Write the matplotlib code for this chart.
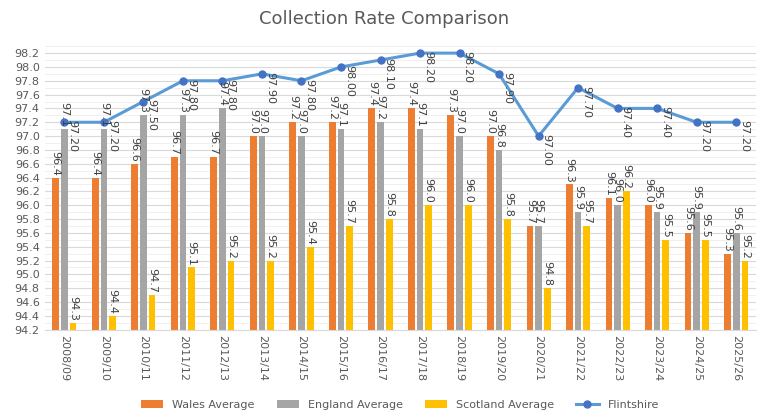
import matplotlib
matplotlib.use("Agg")
import matplotlib.pyplot as plt
import numpy as np
from matplotlib.ticker import MultipleLocator

years = ["2008/09","2009/10","2010/11","2011/12","2012/13","2013/14","2014/15","2015/16","2016/17",
         "2017/18","2018/19","2019/20","2020/21","2021/22","2022/23","2023/24","2024/25","2025/26"]
wales = [96.4,96.4,96.6,96.7,96.7,97.0,97.2,97.2,97.4,97.4,97.3,97.0,95.7,96.3,96.1,96.0,95.6,95.3]
england = [97.1,97.1,97.3,97.3,97.4,97.0,97.0,97.1,97.2,97.1,97.0,96.8,95.7,95.9,96.0,95.9,95.9,95.6]
scotland = [94.3,94.4,94.7,95.1,95.2,95.2,95.4,95.7,95.8,96.0,96.0,95.8,94.8,95.7,96.2,95.5,95.5,95.2]
flint = [97.2,97.2,97.5,97.8,97.8,97.9,97.8,98.0,98.1,98.2,98.2,97.9,97.0,97.7,97.4,97.4,97.2,97.2]

fig = plt.figure(figsize=(7.69,4.20), dpi=100)
ax = fig.add_axes([0.058, 0.215, 0.925, 0.675])
x = np.arange(len(years))
w = 0.17
base = 94.2
cols = ["#ED7D31", "#A5A5A5", "#FFC000"]
names = ["Wales Average", "England Average", "Scotland Average"]
for i, (vals, c, n) in enumerate(zip([wales, england, scotland], cols, names)):
    xs = x + (i-1)*0.22
    v = np.array(vals)
    ax.bar(xs, v-base, w, bottom=base, color=c, label=n, zorder=2)
    for xi, vi in zip(xs, v):
        ax.text(xi, vi+0.03, f"{vi:.1f}", rotation=-90, ha="center", va="bottom",
                fontsize=8, color="#404040", zorder=4)
ax.plot(x, flint, color="#5B9BD5", lw=2.2, marker="o", ms=5,
        mfc="#4472C4", mec="#4472C4", label="Flintshire", zorder=3)
for xi, vi in zip(x, flint):
    ax.text(xi+0.2, vi+0.03, f"{vi:.2f}", rotation=-90, ha="center", va="top",
            fontsize=8, color="#404040", zorder=4)

ax.set_xlim(-0.5, len(years)-0.5)
ax.set_ylim(94.2, 98.3)
ax.yaxis.set_minor_locator(MultipleLocator(0.1))
ticks = np.round(np.arange(94.2, 98.21, 0.2), 1)
ax.set_yticks(ticks)
ax.set_yticklabels([f"{t:.1f}" for t in ticks])
ax.grid(axis="y", which="major", color="#D9D9D9", lw=0.8, zorder=0)
ax.grid(axis="y", which="minor", color="#EEEEEE", lw=0.6, zorder=0)
ax.set_xticks(x)
ax.set_xticklabels(years, rotation=-90, fontsize=8, color="#595959")
ax.tick_params(axis="y", labelsize=8, labelcolor="#595959", length=0, which="both")
ax.tick_params(axis="x", length=0)
for s in ["top", "right", "left"]:
    ax.spines[s].set_visible(False)
ax.spines["bottom"].set_color("#D9D9D9")
fig.suptitle("Collection Rate Comparison", y=0.975, fontsize=13, color="#595959")
h, l = ax.get_legend_handles_labels()
order = [1, 2, 3, 0]
fig.legend([h[i] for i in order], [l[i] for i in order], loc="lower center", ncol=4,
           frameon=False, fontsize=8, bbox_to_anchor=(0.52, 0.0), labelcolor="#595959")
fig.savefig("out.png", dpi=100)
